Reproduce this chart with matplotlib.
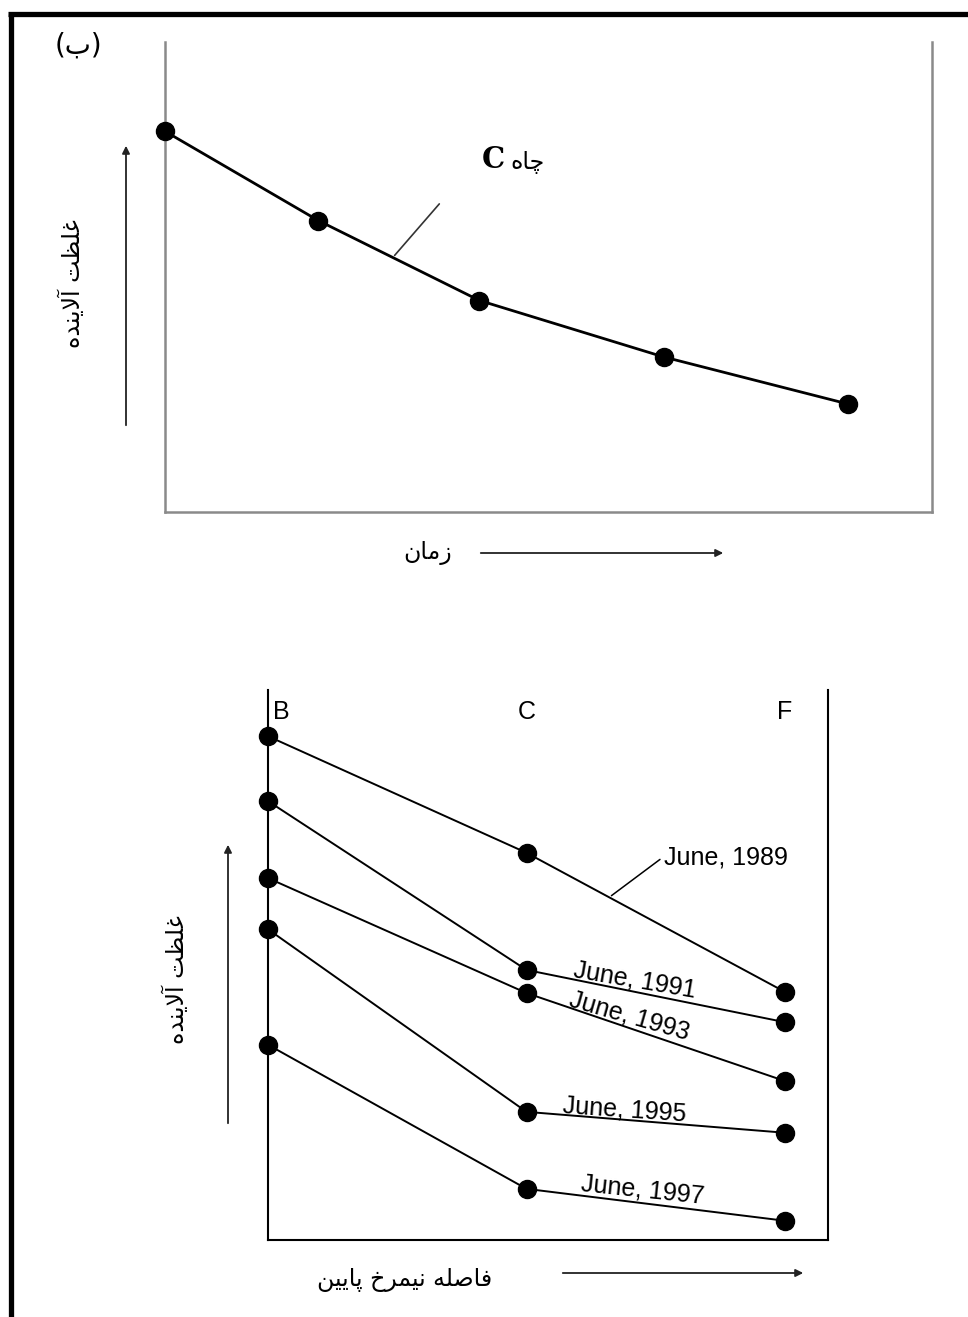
import matplotlib
matplotlib.use("Agg")
import matplotlib.pyplot as plt
import numpy as np

# ---- data ----
# top panel: well C, concentration against time
time_c = [0.0, 2.0, 4.1, 6.5, 8.9]
conc_c = [8.1, 6.2, 4.5, 3.3, 2.3]

# bottom panel: concentration along the down-gradient profile
wells = ["B", "C", "F"]
well_dist = [0, 1, 2]
surveys = ["June, 1989", "June, 1991", "June, 1993", "June, 1995", "June, 1997"]
conc_1989 = [9.16, 7.04, 4.51]
conc_1991 = [7.98, 4.91, 3.96]
conc_1993 = [6.58, 4.49, 2.89]
conc_1995 = [5.65, 2.33, 1.95]
conc_1997 = [3.55, 0.93, 0.35]
profiles = [conc_1989, conc_1991, conc_1993, conc_1995, conc_1997]

ylabel_fa = "غلظت آلاینده"
xlabel_top_fa = "زمان"
xlabel_bot_fa = "فاصله نیمرخ پایین"
well_fa = "چاه"
panel_fa = "ب"

# ---- tiny persian shaper: matplotlib 3.10 has no arabic shaping ----
FORMS = {
    "ا": ("\uFE8D", "\uFE8E"), "آ": ("\uFE81", "\uFE82"),
    "د": ("\uFEA9", "\uFEAA"), "ر": ("\uFEAD", "\uFEAE"),
    "ز": ("\uFEAF", "\uFEB0"),
    "ب": ("\uFE8F", "\uFE90", "\uFE91", "\uFE92"),
    "ت": ("\uFE95", "\uFE96", "\uFE97", "\uFE98"),
    "خ": ("\uFEA5", "\uFEA6", "\uFEA7", "\uFEA8"),
    "ص": ("\uFEB9", "\uFEBA", "\uFEBB", "\uFEBC"),
    "ظ": ("\uFEC5", "\uFEC6", "\uFEC7", "\uFEC8"),
    "غ": ("\uFECD", "\uFECE", "\uFECF", "\uFED0"),
    "ف": ("\uFED1", "\uFED2", "\uFED3", "\uFED4"),
    "ل": ("\uFEDD", "\uFEDE", "\uFEDF", "\uFEE0"),
    "م": ("\uFEE1", "\uFEE2", "\uFEE3", "\uFEE4"),
    "ن": ("\uFEE5", "\uFEE6", "\uFEE7", "\uFEE8"),
    "ه": ("\uFEE9", "\uFEEA", "\uFEEB", "\uFEEC"),
    "پ": ("\uFB56", "\uFB57", "\uFB58", "\uFB59"),
    "چ": ("\uFB7A", "\uFB7B", "\uFB7C", "\uFB7D"),
    "ی": ("\uFBFC", "\uFBFD", "\uFBFE", "\uFBFF"),
}
LAM_ALEF = {"ا": ("\uFEFB", "\uFEFC"), "آ": ("\uFEF5", "\uFEF6")}


def shape(s):
    """return visual (left to right) string with joined letter forms"""
    dual = lambda c: c in FORMS and len(FORMS[c]) == 4
    out = []
    i = 0
    while i < len(s):
        c = s[i]
        if c not in FORMS:
            out.append(c)
            i += 1
            continue
        jp = i > 0 and dual(s[i - 1])
        if c == "ل" and i + 1 < len(s) and s[i + 1] in LAM_ALEF:
            out.append(LAM_ALEF[s[i + 1]][1 if jp else 0])
            i += 2
            continue
        jn = dual(c) and i + 1 < len(s) and s[i + 1] in FORMS
        f = FORMS[c]
        out.append(f[3] if jp and jn else f[1] if jp else f[2] if jn else f[0])
        i += 1
    return "".join(reversed(out))


W, H = 968, 1317
fig = plt.figure(figsize=(W / 100, H / 100), dpi=100)
fa = dict(family=["DejaVu Sans"], color="black")
en = dict(family=["Liberation Sans"], color="black")


def box(l, t, r, b):
    return [l / W, 1 - b / H, (r - l) / W, (b - t) / H]


# ---- top panel ----
ax1 = fig.add_axes(box(165, 42, 932, 512))
ax1.plot(time_c, conc_c, color="black", lw=2.0, marker="o", ms=13,
         mfc="black", mec="black", clip_on=False, zorder=3)
ax1.set_xlim(0, 10)
ax1.set_ylim(0, 10)
ax1.set_xticks([])
ax1.set_yticks([])
ax1.spines["top"].set_visible(False)
for s in ["left", "right", "bottom"]:
    ax1.spines[s].set_color("#8a8a8a")
    ax1.spines[s].set_linewidth(1.8)

x_ptr = 2.97
ax1.annotate("", xy=(x_ptr, np.interp(x_ptr, time_c, conc_c)), xytext=(3.6, 6.6),
             arrowprops=dict(arrowstyle="-", color="#333333", lw=1.2))
ax1.text(4.28, 7.5, "C", family=["DejaVu Serif"], weight="bold", fontsize=21,
         ha="center", va="center")
ax1.text(4.73, 7.45, shape(well_fa), fontsize=17, ha="center", va="center", **fa)

# ---- bottom panel ----
ax2 = fig.add_axes(box(268, 690, 828, 1240))
for conc in profiles:
    ax2.plot(well_dist, conc, color="black", lw=1.4, marker="o", ms=13,
             mfc="black", mec="black", clip_on=False, zorder=3)
ax2.set_xlim(0, 2 * 560 / 517)
ax2.set_ylim(0, 10)
ax2.set_xticks([])
ax2.set_yticks([])
ax2.spines["top"].set_visible(False)
for s in ["left", "right", "bottom"]:
    ax2.spines[s].set_color("black")
    ax2.spines[s].set_linewidth(1.5)

for d, name in zip(well_dist, wells):
    ax2.text(d + (0.05 if d == 0 else 0.0), 9.6, name, fontsize=18,
             ha="center", va="center", **en)

# June, 1989 with leader line
x_ptr = 1.32
ax2.annotate("", xy=(x_ptr, np.interp(x_ptr, well_dist, conc_1989)), xytext=(1.525, 6.95),
             arrowprops=dict(arrowstyle="-", color="black", lw=1.1))
ax2.text(1.53, 6.95, surveys[0], fontsize=18, ha="left", va="center", **en)

# the others along their C-F segment
label_pos = [None, (1.42, 12), (1.40, 12), (1.38, 10), (1.45, 13)]
for name, conc, pos in zip(surveys[1:], profiles[1:], label_pos[1:]):
    xm, off = pos
    p0 = ax2.transData.transform((well_dist[1], conc[1]))
    p1 = ax2.transData.transform((well_dist[2], conc[2]))
    ang = np.degrees(np.arctan2(p1[1] - p0[1], p1[0] - p0[0]))
    ym = np.interp(xm, well_dist, conc)
    ax2.annotate(name, xy=(xm, ym), xytext=(0, off), textcoords="offset pixels",
                 rotation=ang * 0.85, rotation_mode="anchor", fontsize=18,
                 ha="center", va="center", **en)

# ---- overlay in pixel coordinates: frame, arrows, persian labels ----
ov = fig.add_axes([0, 0, 1, 1], zorder=5)
ov.set_xlim(0, W)
ov.set_ylim(H, 0)
ov.axis("off")
ov.patch.set_alpha(0)

ov.plot([10.5, 10.5], [H, 14], color="black", lw=3.8, solid_capstyle="butt")
ov.plot([8, W], [14, 14], color="black", lw=3.8, solid_capstyle="butt")

ov.text(78, 46, "(" + shape(panel_fa) + ")", fontsize=20, ha="center", va="center", **fa)

arr = dict(arrowstyle="-|>", color="#222222", lw=1.3, mutation_scale=11)
ov.annotate("", xy=(126, 143), xytext=(126, 428), arrowprops=arr)
ov.annotate("", xy=(726, 553), xytext=(478, 553), arrowprops=arr)
ov.annotate("", xy=(228, 842), xytext=(228, 1126), arrowprops=arr)
ov.annotate("", xy=(806, 1273), xytext=(560, 1273), arrowprops=arr)

ov.text(72, 284, shape(ylabel_fa), rotation=90, fontsize=17, ha="center", va="center", **fa)
ov.text(176, 980, shape(ylabel_fa), rotation=90, fontsize=17, ha="center", va="center", **fa)
ov.text(428, 553, shape(xlabel_top_fa), fontsize=17, ha="center", va="center", **fa)
ov.text(405, 1280, shape(xlabel_bot_fa), fontsize=17, ha="center", va="center", **fa)

fig.savefig("out.png", dpi=100, facecolor="white")
